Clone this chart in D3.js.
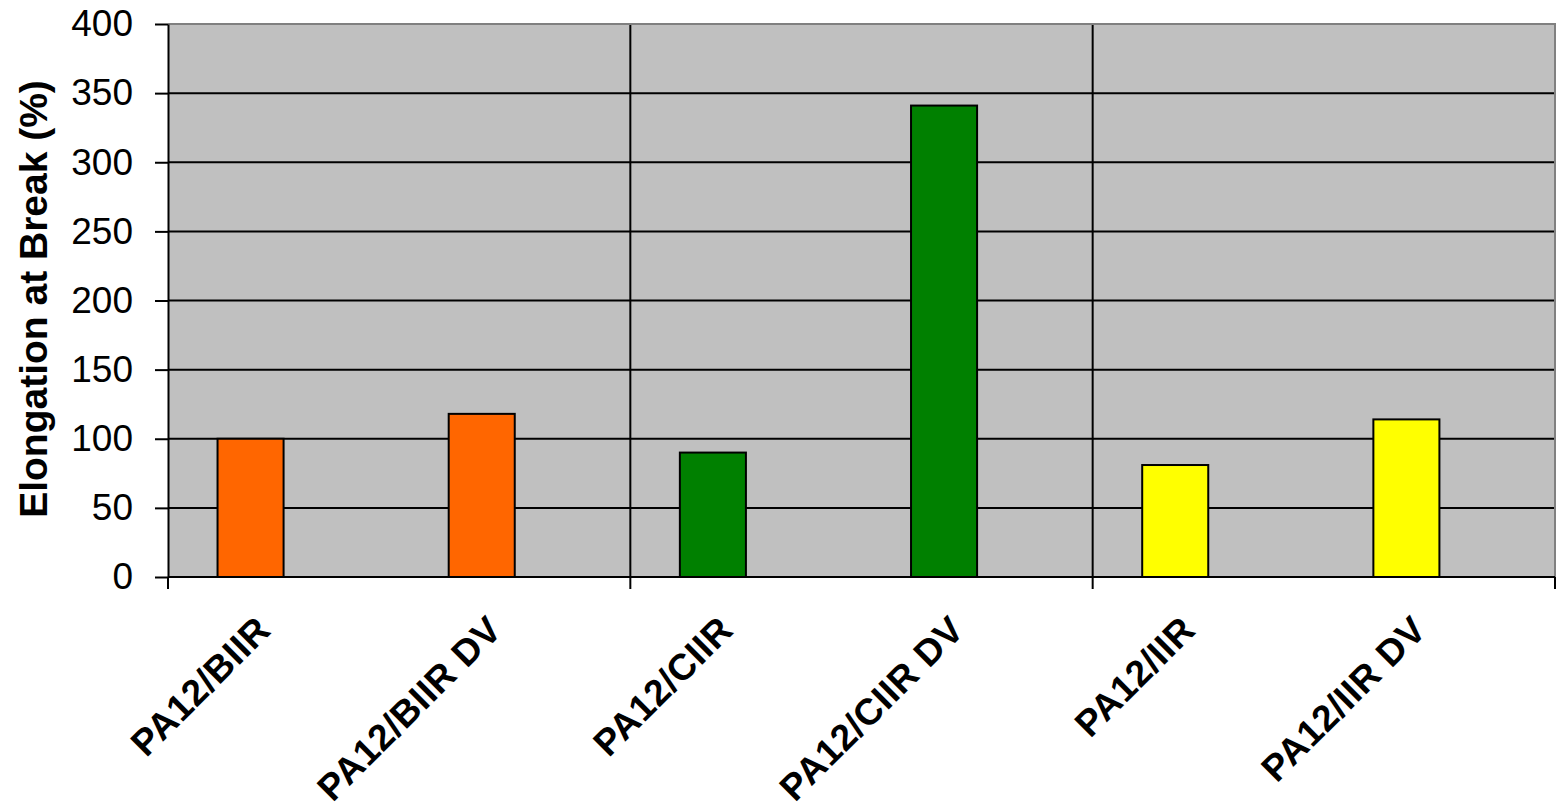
<!DOCTYPE html>
<html>
<head>
<meta charset="utf-8">
<script src="https://cdn.jsdelivr.net/npm/d3@7"></script>
<style>
  html, body { margin: 0; padding: 0; background: #fff; }
  svg { display: block; font-family: "Liberation Sans", Arial, sans-serif; }
</style>
</head>
<body>
<svg id="chart" width="1558" height="811"></svg>
<script>
// Elongation at break per material (%)
const categories = ["PA12/BIIR", "PA12/BIIR DV", "PA12/CIIR", "PA12/CIIR DV", "PA12/IIR", "PA12/IIR DV"];
const elongation = [100, 118, 90, 341, 81, 114];
const barColors = ["#FF6600", "#FF6600", "#008000", "#008000", "#FFFF00", "#FFFF00"];
// Two series slots per category; only the first carries values
const seriesSlots = ["value", "empty"];
const yTicks = [0, 50, 100, 150, 200, 250, 300, 350, 400];
const yTitle = "Elongation at Break (%)";

const svg = d3.select("#chart");
const plot = { left: 168, right: 1555, top: 24, bottom: 577 };

const x = d3.scaleBand().domain(categories).range([plot.left, plot.right]).padding(0);
const slot = d3.scaleBand().domain(seriesSlots).range([0, x.step()])
  .paddingInner(0).paddingOuter(0.75);
const y = d3.scaleLinear().domain([0, 400]).range([plot.bottom, plot.top]);

// Plot background
svg.append("rect")
  .attr("x", plot.left).attr("y", plot.top)
  .attr("width", plot.right - plot.left).attr("height", plot.bottom - plot.top)
  .attr("fill", "#C0C0C0");

// Horizontal gridlines
svg.append("g").selectAll("line")
  .data(yTicks.filter(v => v > 0 && v < 400))
  .join("line")
  .attr("x1", plot.left).attr("x2", plot.right)
  .attr("y1", d => y(d)).attr("y2", d => y(d))
  .attr("stroke", "#000").attr("stroke-width", 2);

// Vertical gridlines every two categories
const groupEdges = categories.filter((c, i) => i % 2 === 0).map(c => x(c)).concat([plot.right]);
svg.append("g").selectAll("line")
  .data(groupEdges.slice(1, -1))
  .join("line")
  .attr("x1", d => d).attr("x2", d => d)
  .attr("y1", plot.top).attr("y2", plot.bottom)
  .attr("stroke", "#000").attr("stroke-width", 2);

// Top and right frame
svg.append("path")
  .attr("d", `M${plot.left},${plot.top}H${plot.right}V${plot.bottom}`)
  .attr("fill", "none").attr("stroke", "#808080").attr("stroke-width", 2);

// Bars
svg.append("g").selectAll("rect")
  .data(categories.map((c, i) => ({ c, v: elongation[i], color: barColors[i] })))
  .join("rect")
  .attr("x", d => x(d.c) + slot("value"))
  .attr("width", slot.bandwidth())
  .attr("y", d => y(d.v))
  .attr("height", d => y(0) - y(d.v))
  .attr("fill", d => d.color)
  .attr("stroke", "#000").attr("stroke-width", 2);

// Y axis
const yAxis = svg.append("g")
  .attr("transform", `translate(${plot.left},0)`)
  .call(d3.axisLeft(y).tickValues(yTicks).tickSize(13).tickPadding(22).tickSizeOuter(0));
yAxis.select(".domain").attr("stroke", "#000").attr("stroke-width", 2);
yAxis.selectAll(".tick line").attr("stroke", "#000").attr("stroke-width", 2);
yAxis.selectAll(".tick text")
  .attr("font-size", 37).attr("fill", "#000")
  .attr("font-family", "'Liberation Sans', Arial, sans-serif");

// X axis line and group tick marks
svg.append("line")
  .attr("x1", plot.left).attr("x2", plot.right)
  .attr("y1", plot.bottom).attr("y2", plot.bottom)
  .attr("stroke", "#000").attr("stroke-width", 2);
svg.append("g").selectAll("line")
  .data(groupEdges)
  .join("line")
  .attr("x1", d => d).attr("x2", d => d)
  .attr("y1", plot.bottom).attr("y2", plot.bottom + 12)
  .attr("stroke", "#000").attr("stroke-width", 2);

// Rotated category labels
svg.append("g").selectAll("text")
  .data(categories)
  .join("text")
  .attr("transform", d => `translate(${x(d) + x.bandwidth() / 2 - 11},632) rotate(-45)`)
  .attr("text-anchor", "end")
  .attr("font-size", 37).attr("font-weight", "bold").attr("fill", "#000")
  .attr("letter-spacing", 0.5)
  .text(d => d);

// Y axis title
svg.append("text")
  .attr("transform", `translate(47,299) rotate(-90)`)
  .attr("text-anchor", "middle")
  .attr("font-size", 39).attr("font-weight", "bold").attr("fill", "#000")
  .text(yTitle);
</script>
</body>
</html>
